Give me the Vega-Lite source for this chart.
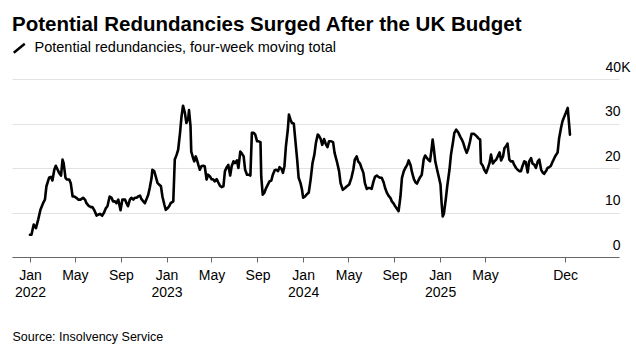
{
  "$schema": "https://vega.github.io/schema/vega-lite/v6.json",
  "width": 607,
  "height": 178,
  "autosize": {"type": "none"},
  "padding": {"left": 12, "top": 79, "right": 17, "bottom": 90},
  "background": "white",
  "config": {"view": {"stroke": null}, "font": "Liberation Sans"},
  "title": {"text": "Potential Redundancies Surged After the UK Budget", "anchor": "start", "frame": "group", "fontSize": 20.5, "fontWeight": "bold", "color": "#000000", "offset": 6},
  "data": {"values": [
    {"date":"2022-01-01","k":5.0},{"date":"2022-01-05","k":5.0},{"date":"2022-01-11","k":7.3},{"date":"2022-01-17","k":6.5},{"date":"2022-01-23","k":8.4},{"date":"2022-01-29","k":10.6},{"date":"2022-02-05","k":12.1},{"date":"2022-02-10","k":12.9},{"date":"2022-02-14","k":15.9},{"date":"2022-02-21","k":17.8},{"date":"2022-02-26","k":18.0},{"date":"2022-03-02","k":17.2},{"date":"2022-03-07","k":19.6},{"date":"2022-03-11","k":20.5},{"date":"2022-03-16","k":19.6},{"date":"2022-03-20","k":18.9},{"date":"2022-03-25","k":18.3},{"date":"2022-03-29","k":21.9},{"date":"2022-04-01","k":21.1},{"date":"2022-04-06","k":17.8},{"date":"2022-04-10","k":17.4},{"date":"2022-04-16","k":17.4},{"date":"2022-04-20","k":16.6},{"date":"2022-04-25","k":13.6},{"date":"2022-04-29","k":13.6},{"date":"2022-05-05","k":13.3},{"date":"2022-05-10","k":12.9},{"date":"2022-05-16","k":12.9},{"date":"2022-05-23","k":13.3},{"date":"2022-05-28","k":12.9},{"date":"2022-06-01","k":12.1},{"date":"2022-06-07","k":11.5},{"date":"2022-06-13","k":11.2},{"date":"2022-06-17","k":11.2},{"date":"2022-06-22","k":10.5},{"date":"2022-06-28","k":9.3},{"date":"2022-07-02","k":9.5},{"date":"2022-07-07","k":9.7},{"date":"2022-07-13","k":9.3},{"date":"2022-07-18","k":10.0},{"date":"2022-07-23","k":11.0},{"date":"2022-07-27","k":11.4},{"date":"2022-08-02","k":13.6},{"date":"2022-08-07","k":13.3},{"date":"2022-08-11","k":12.5},{"date":"2022-08-16","k":12.5},{"date":"2022-08-20","k":12.1},{"date":"2022-08-25","k":12.9},{"date":"2022-08-31","k":10.5},{"date":"2022-09-05","k":12.9},{"date":"2022-09-12","k":12.9},{"date":"2022-09-16","k":12.1},{"date":"2022-09-20","k":11.4},{"date":"2022-09-25","k":12.9},{"date":"2022-09-29","k":13.3},{"date":"2022-10-04","k":12.9},{"date":"2022-10-08","k":13.3},{"date":"2022-10-13","k":13.3},{"date":"2022-10-17","k":13.6},{"date":"2022-10-22","k":13.8},{"date":"2022-10-26","k":13.0},{"date":"2022-10-31","k":12.5},{"date":"2022-11-04","k":12.1},{"date":"2022-11-08","k":12.9},{"date":"2022-11-13","k":14.0},{"date":"2022-11-17","k":15.5},{"date":"2022-11-22","k":17.8},{"date":"2022-11-24","k":19.6},{"date":"2022-11-29","k":19.3},{"date":"2022-12-03","k":18.1},{"date":"2022-12-08","k":16.6},{"date":"2022-12-12","k":16.3},{"date":"2022-12-17","k":15.9},{"date":"2022-12-21","k":13.6},{"date":"2022-12-26","k":11.8},{"date":"2022-12-30","k":10.6},
    {"date":"2023-01-04","k":11.0},{"date":"2023-01-08","k":11.4},{"date":"2023-01-12","k":12.1},{"date":"2023-01-19","k":12.5},{"date":"2023-01-23","k":21.9},{"date":"2023-01-28","k":23.0},{"date":"2023-02-01","k":24.1},{"date":"2023-02-06","k":27.9},{"date":"2023-02-10","k":31.6},{"date":"2023-02-14","k":34.0},{"date":"2023-02-19","k":32.4},{"date":"2023-02-23","k":30.1},{"date":"2023-02-28","k":31.2},{"date":"2023-03-02","k":33.0},{"date":"2023-03-06","k":29.4},{"date":"2023-03-08","k":23.7},{"date":"2023-03-13","k":22.2},{"date":"2023-03-16","k":21.5},{"date":"2023-03-20","k":22.6},{"date":"2023-03-23","k":21.9},{"date":"2023-03-27","k":20.7},{"date":"2023-03-31","k":19.6},{"date":"2023-04-04","k":20.4},{"date":"2023-04-09","k":20.5},{"date":"2023-04-13","k":20.4},{"date":"2023-04-18","k":17.4},{"date":"2023-04-22","k":18.5},{"date":"2023-04-27","k":18.1},{"date":"2023-05-01","k":17.5},{"date":"2023-05-06","k":17.4},{"date":"2023-05-10","k":17.0},{"date":"2023-05-15","k":17.5},{"date":"2023-05-19","k":16.8},{"date":"2023-05-24","k":16.0},{"date":"2023-05-28","k":15.7},{"date":"2023-06-02","k":15.9},{"date":"2023-06-06","k":19.3},{"date":"2023-06-11","k":20.2},{"date":"2023-06-15","k":20.7},{"date":"2023-06-20","k":18.3},{"date":"2023-06-24","k":20.4},{"date":"2023-06-29","k":21.5},{"date":"2023-07-03","k":21.1},{"date":"2023-07-08","k":21.7},{"date":"2023-07-12","k":20.0},{"date":"2023-07-17","k":23.7},{"date":"2023-07-21","k":23.3},{"date":"2023-07-26","k":22.6},{"date":"2023-07-30","k":19.6},{"date":"2023-08-04","k":18.5},{"date":"2023-08-08","k":18.5},{"date":"2023-08-13","k":18.3},{"date":"2023-08-17","k":27.9},{"date":"2023-08-22","k":27.9},{"date":"2023-08-26","k":27.5},{"date":"2023-08-31","k":26.0},{"date":"2023-09-04","k":26.0},{"date":"2023-09-09","k":25.8},{"date":"2023-09-11","k":18.1},{"date":"2023-09-15","k":14.0},{"date":"2023-09-19","k":14.4},{"date":"2023-09-24","k":15.5},{"date":"2023-09-29","k":16.3},{"date":"2023-10-03","k":17.0},{"date":"2023-10-08","k":17.2},{"date":"2023-10-12","k":18.5},{"date":"2023-10-17","k":19.5},{"date":"2023-10-21","k":19.6},{"date":"2023-10-26","k":19.3},{"date":"2023-10-30","k":20.2},{"date":"2023-11-04","k":19.8},{"date":"2023-11-08","k":18.9},{"date":"2023-11-12","k":20.4},{"date":"2023-11-16","k":24.9},{"date":"2023-11-21","k":28.6},{"date":"2023-11-24","k":32.0},{"date":"2023-11-28","k":30.9},{"date":"2023-12-02","k":30.1},{"date":"2023-12-07","k":30.0},{"date":"2023-12-11","k":26.4},{"date":"2023-12-16","k":21.9},{"date":"2023-12-20","k":17.8},{"date":"2023-12-25","k":16.6},{"date":"2023-12-29","k":15.1},
    {"date":"2024-01-01","k":13.3},{"date":"2024-01-06","k":13.6},{"date":"2024-01-10","k":14.0},{"date":"2024-01-16","k":14.5},{"date":"2024-01-21","k":17.4},{"date":"2024-01-26","k":21.1},{"date":"2024-01-31","k":23.0},{"date":"2024-02-04","k":25.6},{"date":"2024-02-09","k":27.5},{"date":"2024-02-12","k":27.3},{"date":"2024-02-17","k":26.5},{"date":"2024-02-21","k":25.2},{"date":"2024-02-26","k":26.5},{"date":"2024-03-01","k":25.5},{"date":"2024-03-06","k":24.7},{"date":"2024-03-10","k":26.0},{"date":"2024-03-16","k":26.0},{"date":"2024-03-21","k":25.8},{"date":"2024-03-25","k":23.4},{"date":"2024-03-31","k":21.5},{"date":"2024-04-06","k":19.3},{"date":"2024-04-10","k":16.6},{"date":"2024-04-16","k":15.1},{"date":"2024-04-22","k":15.5},{"date":"2024-04-27","k":15.9},{"date":"2024-05-03","k":16.3},{"date":"2024-05-09","k":17.8},{"date":"2024-05-14","k":19.6},{"date":"2024-05-18","k":21.9},{"date":"2024-05-23","k":22.6},{"date":"2024-05-27","k":21.5},{"date":"2024-06-01","k":21.0},{"date":"2024-06-05","k":20.0},{"date":"2024-06-10","k":18.9},{"date":"2024-06-14","k":16.6},{"date":"2024-06-19","k":15.3},{"date":"2024-06-23","k":15.5},{"date":"2024-06-28","k":15.5},{"date":"2024-07-02","k":15.3},{"date":"2024-07-07","k":17.0},{"date":"2024-07-11","k":18.0},{"date":"2024-07-16","k":18.3},{"date":"2024-07-20","k":18.0},{"date":"2024-07-25","k":17.8},{"date":"2024-07-29","k":17.8},{"date":"2024-08-03","k":16.8},{"date":"2024-08-07","k":15.5},{"date":"2024-08-12","k":14.4},{"date":"2024-08-16","k":13.8},{"date":"2024-08-21","k":13.3},{"date":"2024-08-25","k":12.5},{"date":"2024-08-30","k":12.0},{"date":"2024-09-03","k":11.4},{"date":"2024-09-08","k":10.8},{"date":"2024-09-12","k":10.3},{"date":"2024-09-17","k":13.6},{"date":"2024-09-21","k":17.8},{"date":"2024-09-26","k":19.3},{"date":"2024-09-30","k":20.0},{"date":"2024-10-05","k":20.7},{"date":"2024-10-09","k":21.7},{"date":"2024-10-14","k":20.7},{"date":"2024-10-18","k":19.0},{"date":"2024-10-23","k":17.5},{"date":"2024-10-27","k":16.8},{"date":"2024-10-31","k":16.5},{"date":"2024-11-04","k":17.2},{"date":"2024-11-09","k":18.0},{"date":"2024-11-13","k":18.5},{"date":"2024-11-18","k":21.9},{"date":"2024-11-22","k":22.8},{"date":"2024-11-27","k":22.2},{"date":"2024-11-30","k":21.9},{"date":"2024-12-05","k":21.5},{"date":"2024-12-09","k":24.1},{"date":"2024-12-12","k":26.4},{"date":"2024-12-15","k":24.5},{"date":"2024-12-19","k":21.5},{"date":"2024-12-24","k":19.6},{"date":"2024-12-29","k":17.8},
    {"date":"2025-01-02","k":16.3},{"date":"2025-01-05","k":12.1},{"date":"2025-01-08","k":9.1},{"date":"2025-01-11","k":9.7},{"date":"2025-01-16","k":12.9},{"date":"2025-01-20","k":15.9},{"date":"2025-01-26","k":19.6},{"date":"2025-01-30","k":23.0},{"date":"2025-02-04","k":25.6},{"date":"2025-02-08","k":27.9},{"date":"2025-02-13","k":28.6},{"date":"2025-02-19","k":27.9},{"date":"2025-02-24","k":27.0},{"date":"2025-02-28","k":26.4},{"date":"2025-03-04","k":25.6},{"date":"2025-03-08","k":24.5},{"date":"2025-03-13","k":23.4},{"date":"2025-03-17","k":24.3},{"date":"2025-03-22","k":26.0},{"date":"2025-03-26","k":27.7},{"date":"2025-03-31","k":27.7},{"date":"2025-04-04","k":27.5},{"date":"2025-04-09","k":27.1},{"date":"2025-04-13","k":26.7},{"date":"2025-04-18","k":26.4},{"date":"2025-04-20","k":21.1},{"date":"2025-04-25","k":20.5},{"date":"2025-04-29","k":19.6},{"date":"2025-05-04","k":18.9},{"date":"2025-05-08","k":19.8},{"date":"2025-05-13","k":21.1},{"date":"2025-05-17","k":23.0},{"date":"2025-05-22","k":21.0},{"date":"2025-05-26","k":21.5},{"date":"2025-05-31","k":21.9},{"date":"2025-06-04","k":22.6},{"date":"2025-06-09","k":23.5},{"date":"2025-06-13","k":21.7},{"date":"2025-06-18","k":22.6},{"date":"2025-06-22","k":24.5},{"date":"2025-06-27","k":25.0},{"date":"2025-06-30","k":25.5},{"date":"2025-07-05","k":21.9},{"date":"2025-07-09","k":21.5},{"date":"2025-07-14","k":21.5},{"date":"2025-07-18","k":20.7},{"date":"2025-07-23","k":20.0},{"date":"2025-07-27","k":19.6},{"date":"2025-08-01","k":19.3},{"date":"2025-08-05","k":19.3},{"date":"2025-08-09","k":20.4},{"date":"2025-08-14","k":21.5},{"date":"2025-08-18","k":21.3},{"date":"2025-08-23","k":19.0},{"date":"2025-08-27","k":21.5},{"date":"2025-09-01","k":22.2},{"date":"2025-09-05","k":21.0},{"date":"2025-09-10","k":20.7},{"date":"2025-09-14","k":20.0},{"date":"2025-09-19","k":21.5},{"date":"2025-09-23","k":21.9},{"date":"2025-09-28","k":19.6},{"date":"2025-10-02","k":19.0},{"date":"2025-10-06","k":18.7},{"date":"2025-10-11","k":19.3},{"date":"2025-10-15","k":20.0},{"date":"2025-10-20","k":20.2},{"date":"2025-10-24","k":20.5},{"date":"2025-10-29","k":21.5},{"date":"2025-11-02","k":22.2},{"date":"2025-11-07","k":23.0},{"date":"2025-11-11","k":23.5},{"date":"2025-11-15","k":26.7},{"date":"2025-11-20","k":29.0},{"date":"2025-11-24","k":30.5},{"date":"2025-11-29","k":31.6},{"date":"2025-12-03","k":32.4},{"date":"2025-12-08","k":33.5},{"date":"2025-12-14","k":27.5}
  ]},
  "mark": {"type": "line", "strokeWidth": 2.6, "strokeJoin": "round", "strokeCap": "round"},
  "encoding": {
    "x": {
      "field": "date", "type": "temporal",
      "scale": {"type": "utc", "domain": [{"year": 2021, "month": 11, "date": 14, "utc": true}, {"year": 2026, "month": 4, "date": 24, "utc": true}]},
      "axis": {
        "values": [
          {"year": 2022, "month": 1, "date": 1, "utc": true},
          {"year": 2022, "month": 5, "date": 1, "utc": true},
          {"year": 2022, "month": 9, "date": 1, "utc": true},
          {"year": 2023, "month": 1, "date": 1, "utc": true},
          {"year": 2023, "month": 5, "date": 1, "utc": true},
          {"year": 2023, "month": 9, "date": 1, "utc": true},
          {"year": 2024, "month": 1, "date": 1, "utc": true},
          {"year": 2024, "month": 5, "date": 1, "utc": true},
          {"year": 2024, "month": 9, "date": 1, "utc": true},
          {"year": 2025, "month": 1, "date": 1, "utc": true},
          {"year": 2025, "month": 5, "date": 1, "utc": true},
          {"year": 2025, "month": 12, "date": 1, "utc": true}
        ],
        "labelExpr": "utcmonth(datum.value) == 0 ? [utcFormat(datum.value, '%b'), utcFormat(datum.value, '%Y')] : utcFormat(datum.value, '%b')",
        "title": "Source: Insolvency Service",
        "titleAnchor": "start", "titleAlign": "left", "titleX": 0, "titleY": 83, "titleBaseline": "alphabetic",
        "titleFontSize": 12.5, "titleFontWeight": "normal", "titleColor": "#000000", "titleFont": "Liberation Sans",
        "grid": false, "domainColor": "#666666", "domainWidth": 1, "tickColor": "#666666", "tickSize": 5,
        "labelFontSize": 14, "labelColor": "#000000", "labelPadding": 6, "labelLineHeight": 17,
        "labelFlush": false, "labelOverlap": false, "labelBaseline": "top"
      }
    },
    "y": {
      "field": "k", "type": "quantitative",
      "scale": {"domain": [0, 40], "nice": false},
      "axis": {
        "orient": "right", "values": [0, 10, 20, 30, 40], "domain": false, "ticks": false, "tickSize": 0,
        "grid": true, "gridColor": "#e2e2e2", "gridWidth": 1,
        "labelAlign": "right", "labelBaseline": "alphabetic", "labelOffset": -8,
        "labelPadding": {"condition": {"test": "datum.value == 40", "value": 11}, "value": 1},
        "labelExpr": "datum.value == 40 ? '40K' : datum.label",
        "labelFontSize": 14, "labelColor": "#000000", "title": null, "labelOverlap": false, "labelFlush": false
      }
    },
    "color": {
      "datum": "Potential redundancies, four-week moving total",
      "scale": {"range": ["#000000"]},
      "legend": {
        "orient": "none", "legendX": 0, "legendY": -38, "title": null, "padding": 0,
        "symbolType": "M-1,0.8L1,-0.8", "symbolSize": 121, "symbolStrokeWidth": 2.5,
        "labelFontSize": 14.5, "labelColor": "#000000", "labelOffset": 8, "labelLimit": 500
      }
    }
  }
}
